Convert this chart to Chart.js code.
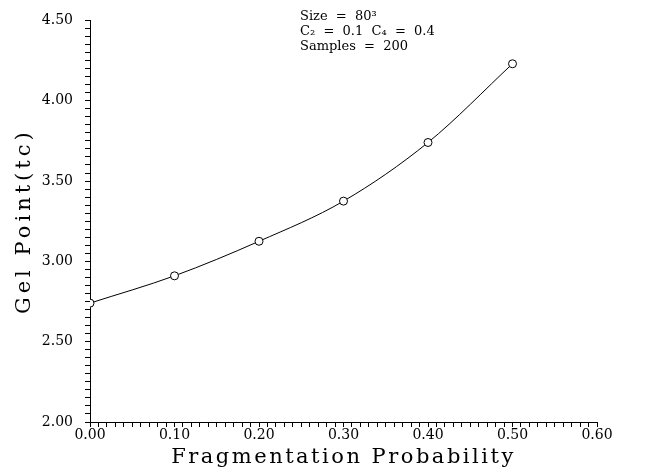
<!DOCTYPE html>
<html>
<head>
<meta charset="utf-8">
<script src="https://cdn.jsdelivr.net/npm/chart.js@4"></script>
<style>
    html, body { margin: 0; padding: 0; background: #fff; }
    #wrap { width: 654px; height: 473px; }
</style>
</head>
<body>
<div id="wrap"><canvas id="gelChart" width="654" height="473"></canvas></div>
<script>
// values
const probabilities = [0.0, 0.1, 0.2, 0.3, 0.4, 0.5];
const gelPoints = [2.74, 2.91, 3.125, 3.375, 3.74, 4.23];
const xTickLabels = ["0.00", "0.10", "0.20", "0.30", "0.40", "0.50", "0.60"];
const yTickLabels = ["2.00", "2.50", "3.00", "3.50", "4.00", "4.50"];
const noteLines = ["Size  =  80\u00b3", "C\u2082  =  0.1  C\u2084  =  0.4", "Samples  =  200"];

const serif = '"DejaVu Serif", "Liberation Serif", serif';

function majorLabel(labels) {
    return function (value) {
        const s = Number(value).toFixed(2);
        return labels.includes(s) ? s : "";
    };
}

// the axis titles in the original are tracked out, so widen the letters
function spaceTitle(scale, px) {
    if (scale._spaced) return;
    const orig = scale.drawTitle.bind(scale);
    scale.drawTitle = function () {
        const c = this.ctx;
        const prev = c.letterSpacing;
        c.letterSpacing = px + "px";
        orig();
        c.letterSpacing = prev;
    };
    scale._spaced = true;
}

const notePlugin = {
    id: "notes",
    afterDraw(chart) {
        const ctx = chart.ctx;
        ctx.save();
        ctx.fillStyle = "#000";
        ctx.font = "13px " + serif;
        ctx.textBaseline = "middle";
        noteLines.forEach((t, i) => ctx.fillText(t, 300, 17 + i * 15));
        ctx.restore();
    }
};

const points = probabilities.map((p, i) => ({ x: p, y: gelPoints[i] }));

const ctxGel = document.getElementById("gelChart").getContext("2d");
const gelChart = new Chart(ctxGel, {
    type: "scatter",
    data: {
        datasets: [
            {
                data: points,
                showLine: true,
                borderColor: "#000",
                borderWidth: 1,
                cubicInterpolationMode: "monotone",
                pointRadius: 4,
                pointBorderWidth: 1,
                pointBorderColor: "#000",
                pointBackgroundColor: "#fff",
            },
        ],
    },
    options: {
        responsive: false,
        animation: false,
        devicePixelRatio: 1,
        layout: { padding: { top: 19, right: 57, left: 0, bottom: 0 } },
        plugins: { legend: { display: false }, tooltip: { enabled: false } },
        scales: {
            x: {
                type: "linear",
                min: 0,
                max: 0.6,
                afterFit: (s) => { s.height = 51; spaceTitle(s, 2.5); },
                ticks: {
                    stepSize: 0.01,
                    autoSkip: false,
                    maxRotation: 0,
                    padding: 0,
                    color: "#000",
                    font: { family: serif, size: 14 },
                    callback: majorLabel(xTickLabels),
                },
                grid: { drawOnChartArea: false, tickLength: 5, color: "#000" },
                border: { color: "#000", width: 1 },
                title: {
                    display: true,
                    text: "Fragmentation Probability",
                    color: "#000",
                    font: { family: serif, size: 21 },
                    padding: { top: 0, bottom: 3 },
                },
            },
            y: {
                type: "linear",
                min: 2,
                max: 4.5,
                afterFit: (s) => { s.width = 90; spaceTitle(s, 4); },
                ticks: {
                    stepSize: 0.05,
                    autoSkip: false,
                    padding: 12,
                    color: "#000",
                    font: { family: serif, size: 14 },
                    callback: majorLabel(yTickLabels),
                },
                grid: { drawOnChartArea: false, tickLength: 5, color: "#000" },
                border: { color: "#000", width: 1 },
                title: {
                    display: true,
                    text: "Gel Point(tc)",
                    color: "#000",
                    font: { family: serif, size: 21 },
                    padding: { top: 12, bottom: 0 },
                },
            },
        },
    },
    plugins: [notePlugin],
});
</script>
</body>
</html>
